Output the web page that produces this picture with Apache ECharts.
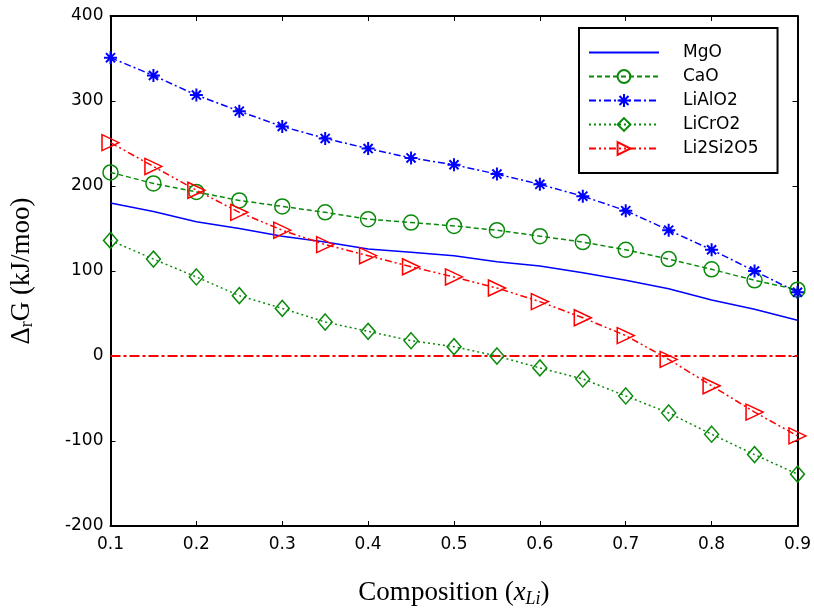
<!DOCTYPE html>
<html>
<head>
<meta charset="utf-8">
<script src="https://cdn.jsdelivr.net/npm/echarts@6/dist/echarts.min.js"></script>
<style>
  html, body { margin: 0; padding: 0; background: #fff; }
  #chart { width: 814px; height: 613px; }
</style>
</head>
<body>
<div id="chart"></div>
<script>
// composition x_Li
var xs = [0.1, 0.15, 0.2, 0.25, 0.3, 0.35, 0.4, 0.45, 0.5, 0.55, 0.6, 0.65, 0.7, 0.75, 0.8, 0.85, 0.9];
var mgo = [180, 170, 158, 150, 141, 134, 126, 122, 118, 111, 106, 98, 89, 79, 66, 55, 42];
var cao = [216, 203, 193, 183, 176, 169, 161, 157, 153, 148, 141, 134, 125, 114, 102, 89, 78];
var lialo2 = [351, 330, 307, 288, 270, 256, 244, 233, 225, 214, 202, 188, 171, 148, 125, 100, 75];
var licro2 = [136, 114, 93, 71, 56, 40, 29, 18, 11, 0, -14, -27, -47, -67, -92, -116, -139];
var li2si2o5 = [251, 223, 195, 169, 148, 131, 118, 105, 93, 80, 64, 45, 24, -4, -35, -66, -94];
var zeroLine = [[0.1, 0], [0.9, 0]];
var legendNames = ["MgO", "CaO", "LiAlO2", "LiCrO2", "Li2Si2O5"];

var blue = "#0000ff", green = "#0a8a0a", red = "#ff0000";

function pairs(ys) {
  return xs.map(function (x, i) { return [x, ys[i]]; });
}

var myChart = echarts.init(document.getElementById("chart"));

var tickFont = { fontFamily: "DejaVu Sans", fontSize: 17, color: "#000" };
var frameLine = { show: true, onZero: false, lineStyle: { color: "#000", width: 2 } };
var frameTick = { show: true, inside: true, length: 5, lineStyle: { color: "#000", width: 1 } };

var option = {
  animation: false,
  backgroundColor: "#fff",
  grid: { left: 110, right: 15, top: 16, bottom: 87 },
  legend: {
    data: legendNames,
    orient: "vertical",
    left: 579,
    top: 28,
    padding: [16, 19, 16, 9],
    itemWidth: 70,
    itemHeight: 16,
    itemGap: 7,
    borderColor: "#000",
    borderWidth: 2,
    backgroundColor: "#fff",
    textStyle: { fontFamily: "DejaVu Sans", fontSize: 17, color: "#000", padding: [0, 0, 0, 19] }
  },
  xAxis: [
    {
      type: "value",
      min: 0.1,
      max: 0.9,
      interval: 0.1,
      name: "{a|Composition (}{i|x}{s|Li}{a|)}",
      nameLocation: "middle",
      nameGap: 52,
      nameTextStyle: {
        rich: {
          a: { fontFamily: "Liberation Serif", fontSize: 27, color: "#000" },
          i: { fontFamily: "Liberation Serif", fontSize: 27, fontStyle: "italic", color: "#000" },
          s: { fontFamily: "Liberation Serif", fontSize: 18, fontStyle: "italic", color: "#000", padding: [12, 0, 0, 0] }
        }
      },
      axisLine: frameLine,
      axisTick: frameTick,
      axisLabel: Object.assign({ margin: 10, formatter: function (v) { return v.toFixed(1); } }, tickFont),
      splitLine: { show: false }
    },
    {
      type: "value",
      position: "top",
      min: 0.1,
      max: 0.9,
      interval: 0.1,
      axisLine: frameLine,
      axisTick: frameTick,
      axisLabel: { show: false },
      splitLine: { show: false }
    }
  ],
  yAxis: [
    {
      type: "value",
      min: -200,
      max: 400,
      interval: 100,
      name: "{a|Δ}{s|r}{a|G (kJ/moo)}",
      nameLocation: "middle",
      nameGap: 74,
      nameTextStyle: {
        rich: {
          a: { fontFamily: "Liberation Serif", fontSize: 27, color: "#000" },
          s: { fontFamily: "Liberation Serif", fontSize: 18, color: "#000", padding: [12, 0, 0, 0] }
        }
      },
      axisLine: frameLine,
      axisTick: frameTick,
      axisLabel: Object.assign({ margin: 7 }, tickFont),
      splitLine: { show: false }
    },
    {
      type: "value",
      position: "right",
      min: -200,
      max: 400,
      interval: 100,
      axisLine: frameLine,
      axisTick: frameTick,
      axisLabel: { show: false },
      splitLine: { show: false }
    }
  ],
  series: [
    {
      name: "zero",
      type: "line",
      data: zeroLine,
      symbol: "none",
      lineStyle: { color: red, width: 2, type: [10, 3, 3, 3] },
      silent: true
    },
    {
      name: "MgO",
      type: "line",
      data: pairs(mgo),
      symbol: "circle",
      showSymbol: false,
      itemStyle: { color: "rgba(0,0,0,0)", borderWidth: 0 },
      lineStyle: { color: blue, width: 1.5 }
    },
    {
      name: "CaO",
      type: "line",
      data: pairs(cao),
      symbol: "circle",
      symbolSize: 15,
      itemStyle: { color: "rgba(0,0,0,0)", borderColor: green, borderWidth: 1.5 },
      lineStyle: { color: green, width: 1.5, type: [5, 3] }
    },
    {
      name: "LiAlO2",
      type: "line",
      data: pairs(lialo2),
      symbol: "path://M5,0L5,10M0,5L10,5M1.5,1.5L8.5,8.5M8.5,1.5L1.5,8.5",
      symbolSize: 13,
      itemStyle: { color: "rgba(0,0,0,0)", borderColor: blue, borderWidth: 2 },
      lineStyle: { color: blue, width: 1.5, type: [7, 3, 2, 3] }
    },
    {
      name: "LiCrO2",
      type: "line",
      data: pairs(licro2),
      symbol: "diamond",
      symbolSize: [14, 16],
      itemStyle: { color: "rgba(0,0,0,0)", borderColor: green, borderWidth: 1.5 },
      lineStyle: { color: green, width: 1.5, type: [2, 3] }
    },
    {
      name: "Li2Si2O5",
      type: "line",
      data: pairs(li2si2o5),
      symbol: "triangle",
      symbolRotate: -90,
      symbolSize: [16, 17],
      itemStyle: { color: "rgba(0,0,0,0)", borderColor: red, borderWidth: 1.5 },
      lineStyle: { color: red, width: 1.5, type: [7, 3, 2, 3, 2, 3] }
    }
  ]
};

myChart.setOption(option);
</script>
</body>
</html>
